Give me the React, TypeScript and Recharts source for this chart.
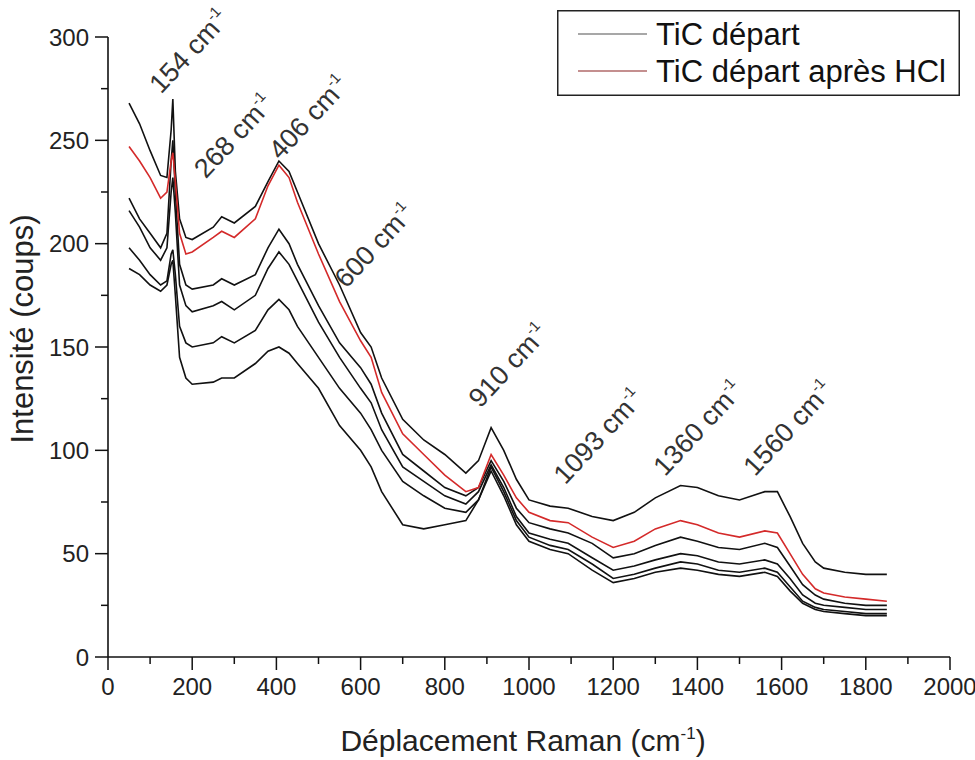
import { LineChart, Line, XAxis, YAxis, ReferenceDot } from "recharts";

const FONT = '"Liberation Sans", Arial, sans-serif';

// Raman shift (cm-1) sampled along the spectra
const WAVENUMBER = [
  50, 75, 100, 125, 140, 150, 154, 160, 170, 185,
  200, 250, 270, 300, 350, 380, 406, 430, 450, 500,
  550, 600, 625, 650, 700, 750, 800, 850, 880, 910,
  940, 970, 1000, 1050, 1093, 1150, 1200, 1250, 1300, 1360,
  1400, 1450, 1500, 1560, 1590, 1620, 1650, 1680, 1700, 1750,
  1800, 1850,
];

const SPEC_A = [
  268, 258, 245, 233, 232, 255, 270, 235, 212, 203,
  202, 208, 213, 210, 218, 230, 240, 235, 225, 200,
  180, 157, 150, 135, 115, 105, 98, 89, 95, 111,
  100, 86, 76, 73, 72, 68, 66, 70, 77, 83,
  82, 78, 76, 80, 80, 68, 55, 46, 43, 41,
  40, 40,
];
const SPEC_HCL = [
  247, 240, 232, 222, 225, 240, 244, 230, 205, 195,
  196, 203, 206, 203, 212, 228, 238, 232, 220, 195,
  172, 153, 145, 128, 108, 98, 88, 80, 82, 98,
  88, 77, 70, 66, 65, 58, 53, 56, 62, 66,
  64, 60, 58, 61, 60, 50, 40, 33, 31, 29,
  28, 27,
];
const SPEC_B = [
  222, 212, 205, 198, 205, 240, 250, 225, 190, 180,
  178, 180, 183, 180, 185, 198, 207, 200, 190, 170,
  152, 140, 132, 118, 98, 90, 82, 78, 82, 95,
  85, 72, 65, 62, 60, 55, 48, 50, 54, 58,
  56, 53, 52, 55, 53, 44, 35, 30, 28, 26,
  25, 25,
];
const SPEC_C = [
  216, 208, 198, 192, 198, 225, 232, 215, 180, 170,
  167, 170, 172, 168, 175, 188, 196, 190, 182, 162,
  145, 130, 123, 110, 92, 85, 78, 74, 80, 93,
  82, 68, 60, 57, 55, 48, 42, 44, 47, 50,
  49, 46, 45, 47, 45, 38, 30, 26, 25, 24,
  23, 23,
];
const SPEC_D = [
  198, 192, 185, 180, 182, 195, 197, 185, 160, 152,
  150, 152, 155, 152, 158, 168, 173, 168, 160, 145,
  130, 118, 110, 100, 85, 78, 72, 70, 76, 92,
  80, 66, 58, 54, 52, 45, 38, 40, 43, 46,
  45, 42, 41, 43, 41, 34, 27, 24, 23, 22,
  21, 21,
];
const SPEC_E = [
  188, 185, 180, 177, 180, 190, 192, 175, 145, 135,
  132, 133, 135, 135, 142, 148, 150, 147, 142, 130,
  112, 100, 92, 80, 64, 62, 64, 66, 76, 90,
  78, 64, 56, 52, 50, 42, 36, 38, 41, 43,
  42, 40, 39, 41, 39, 32, 26, 23, 22, 21,
  20, 20,
];

const SERIES = [
  { key: "a", values: SPEC_A, color: "#111111" },
  { key: "b", values: SPEC_B, color: "#111111" },
  { key: "c", values: SPEC_C, color: "#111111" },
  { key: "d", values: SPEC_D, color: "#111111" },
  { key: "e", values: SPEC_E, color: "#111111" },
  { key: "hcl", values: SPEC_HCL, color: "#d42a2a" },
];

const LEGEND_NAMES = ["TiC départ", "TiC départ après HCl"];
const LEGEND_COLORS = ["#8a8a8a", "#b06a6a"];

const PEAK_LABELS = ["154", "268", "406", "600", "910", "1093", "1360", "1560"];
const PEAK_LABEL_X = [126, 232, 410, 566, 884, 1086, 1323, 1537];
const PEAK_LABEL_Y = [272, 231, 240, 178, 120, 83, 87, 87];

const X_TICKS = Array.from({ length: 21 }, (_, i) => i * 100);
const Y_TICKS = Array.from({ length: 13 }, (_, i) => i * 25);

const data = WAVENUMBER.map((w, i) => {
  const row: Record<string, number> = { w };
  SERIES.forEach((s) => {
    row[s.key] = s.values[i];
  });
  return row;
});

function YTick({ x, y, payload }: any) {
  const major = payload.value % 50 === 0;
  return (
    <g>
      <line x1={x - (major ? 13 : 7)} x2={x} y1={y} y2={y} stroke="#111" strokeWidth={1.5} />
      {major && (
        <text x={x - 19} y={y} dy="0.36em" textAnchor="end" fontSize={24} fontFamily={FONT} fill="#222">
          {payload.value}
        </text>
      )}
    </g>
  );
}

function XTick({ x, y, payload }: any) {
  const major = payload.value % 200 === 0;
  return (
    <g>
      <line x1={x} x2={x} y1={y} y2={y + (major ? 13 : 7)} stroke="#111" strokeWidth={1.5} />
      {major && (
        <text x={x} y={y + 38} textAnchor="middle" fontSize={24} fontFamily={FONT} fill="#222">
          {payload.value}
        </text>
      )}
    </g>
  );
}

function XTitle({ viewBox }: any) {
  const cx = viewBox.x + viewBox.width / 2;
  return (
    <text x={cx - 6} y={viewBox.y + 94} textAnchor="middle" fontSize={30} fontFamily={FONT} fill="#222">
      Déplacement Raman (cm
      <tspan dy={-12} fontSize={17}>-1</tspan>
      <tspan dy={12}>)</tspan>
    </text>
  );
}

function YTitle({ viewBox }: any) {
  const cy = viewBox.y + viewBox.height / 2 - 18;
  const x = 33;
  return (
    <text
      x={x}
      y={cy}
      transform={`rotate(-90 ${x} ${cy})`}
      textAnchor="middle"
      fontSize={31}
      fontFamily={FONT}
      fill="#222"
    >
      Intensité (coups)
    </text>
  );
}

function PeakLabel({ cx, cy, text }: any) {
  return (
    <text
      x={cx}
      y={cy}
      transform={`rotate(-47 ${cx} ${cy})`}
      fontSize={27}
      fontFamily={FONT}
      fill="#333"
    >
      {text} cm
      <tspan dy={-12} fontSize={15}>-1</tspan>
    </text>
  );
}

export default function App() {
  return (
    <div style={{ position: "absolute", left: 0, top: 0, width: 975, height: 760, background: "#fff" }}>
      <LineChart width={975} height={760} data={data} margin={{ top: 37, right: 25, left: 0, bottom: 0 }}>
        <XAxis
          dataKey="w"
          type="number"
          domain={[0, 2000]}
          ticks={X_TICKS}
          interval={0}
          tick={<XTick />}
          tickLine={false}
          tickSize={0}
          tickMargin={0}
          height={103}
          axisLine={{ stroke: "#111", strokeWidth: 1.6 }}
          label={<XTitle />}
        />
        <YAxis
          type="number"
          domain={[0, 300]}
          ticks={Y_TICKS}
          interval={0}
          tick={<YTick />}
          tickLine={false}
          tickSize={0}
          tickMargin={0}
          width={108}
          axisLine={{ stroke: "#111", strokeWidth: 1.6 }}
          label={<YTitle />}
        />
        {SERIES.map((s) => (
          <Line
            key={s.key}
            dataKey={s.key}
            type="linear"
            stroke={s.color}
            strokeWidth={1.6}
            dot={false}
            isAnimationActive={false}
          />
        ))}
        {PEAK_LABELS.map((t, i) => (
          <ReferenceDot
            key={t}
            x={PEAK_LABEL_X[i]}
            y={PEAK_LABEL_Y[i]}
            r={0}
            shape={(p: any) => <PeakLabel cx={p.cx} cy={p.cy} text={t} />}
          />
        ))}
      </LineChart>
      <svg
        width={403}
        height={86}
        style={{ position: "absolute", left: 557, top: 10 }}
        fontFamily={FONT}
      >
        <rect x={0.75} y={0.75} width={401.5} height={84.5} fill="#fff" stroke="#222" strokeWidth={1.5} />
        {LEGEND_NAMES.map((name, i) => (
          <g key={name}>
            <line x1={21} x2={90} y1={24 + i * 37} y2={24 + i * 37} stroke={LEGEND_COLORS[i]} strokeWidth={1.5} />
            <text x={99} y={35 + i * 37} fontSize={31} fill="#111">
              {name}
            </text>
          </g>
        ))}
      </svg>
    </div>
  );
}
